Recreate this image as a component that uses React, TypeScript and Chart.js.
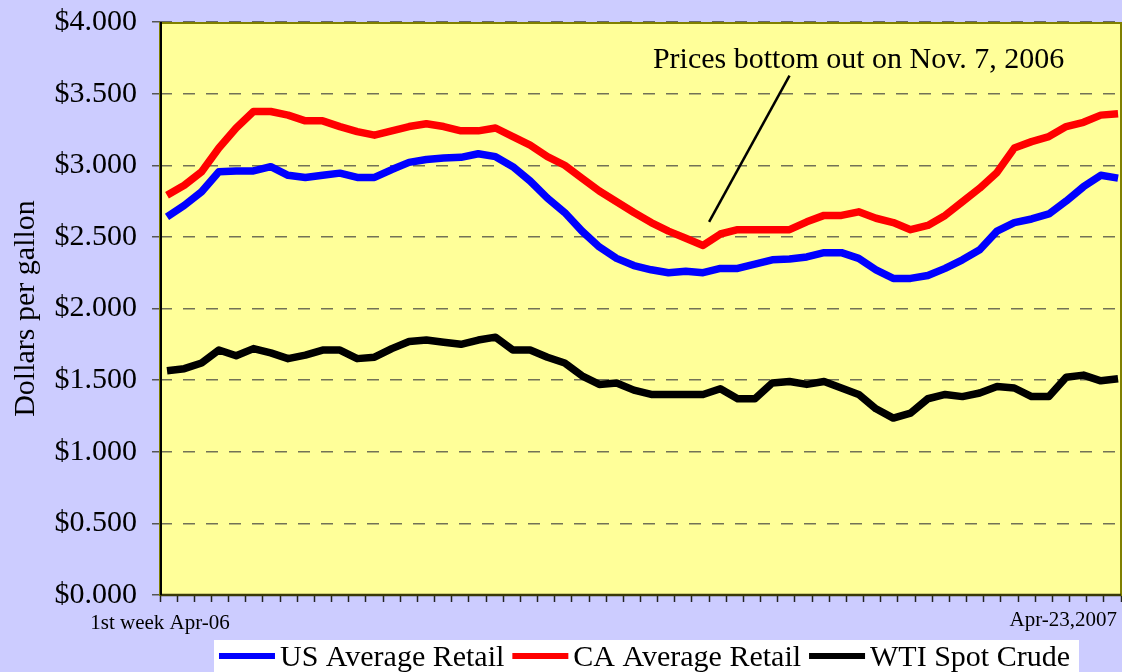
import { useEffect, useRef } from 'react';
import { Chart, registerables } from 'chart.js';

Chart.register(...registerables);

// Weekly observations, 1st week of April 2006 through April 23, 2007
const weeks = [
  '2006-04-03', '2006-04-10', '2006-04-17', '2006-04-24', '2006-05-01', '2006-05-08', '2006-05-15', '2006-05-22',
  '2006-05-29', '2006-06-05', '2006-06-12', '2006-06-19', '2006-06-26', '2006-07-03', '2006-07-10', '2006-07-17',
  '2006-07-24', '2006-07-31', '2006-08-07', '2006-08-14', '2006-08-21', '2006-08-28', '2006-09-04', '2006-09-11',
  '2006-09-18', '2006-09-25', '2006-10-02', '2006-10-09', '2006-10-16', '2006-10-23', '2006-10-30', '2006-11-06',
  '2006-11-13', '2006-11-20', '2006-11-27', '2006-12-04', '2006-12-11', '2006-12-18', '2006-12-25', '2007-01-01',
  '2007-01-08', '2007-01-15', '2007-01-22', '2007-01-29', '2007-02-05', '2007-02-12', '2007-02-19', '2007-02-26',
  '2007-03-05', '2007-03-12', '2007-03-19', '2007-03-26', '2007-04-02', '2007-04-09', '2007-04-16', '2007-04-23',
];

const usRetail = [
  2.64, 2.72, 2.815, 2.955, 2.96, 2.96, 2.99, 2.93, 2.915, 2.93,
  2.945, 2.915, 2.915, 2.97, 3.02, 3.04, 3.05, 3.055, 3.08, 3.06,
  2.99, 2.89, 2.77, 2.67, 2.54, 2.43, 2.35, 2.30, 2.27, 2.25,
  2.26, 2.25, 2.28, 2.28, 2.31, 2.34, 2.345, 2.36, 2.39, 2.39,
  2.35, 2.27, 2.21, 2.21, 2.23, 2.28, 2.34, 2.41, 2.54, 2.60,
  2.625, 2.66, 2.75, 2.85, 2.93, 2.91,
];

const caRetail = [
  2.79, 2.86, 2.955, 3.12, 3.26, 3.375, 3.375, 3.35, 3.31, 3.31,
  3.27, 3.235, 3.21, 3.24, 3.27, 3.29, 3.27, 3.24, 3.24, 3.26,
  3.20, 3.14, 3.06, 3.00, 2.91, 2.82, 2.745, 2.67, 2.60, 2.54,
  2.49, 2.44, 2.52, 2.55, 2.55, 2.55, 2.55, 2.605, 2.65, 2.65,
  2.675, 2.63, 2.60, 2.55, 2.58, 2.65, 2.745, 2.84, 2.95, 3.12,
  3.165, 3.20, 3.27, 3.30, 3.35, 3.36,
];

const wtiCrude = [
  1.565, 1.58, 1.62, 1.71, 1.67, 1.72, 1.69, 1.65, 1.675, 1.71,
  1.71, 1.65, 1.66, 1.72, 1.77, 1.78, 1.765, 1.75, 1.78, 1.80,
  1.71, 1.71, 1.66, 1.62, 1.53, 1.47, 1.48, 1.43, 1.40, 1.40,
  1.40, 1.40, 1.44, 1.37, 1.37, 1.48, 1.49, 1.47, 1.49, 1.445,
  1.40, 1.30, 1.235, 1.27, 1.37, 1.40, 1.385, 1.41, 1.455, 1.445,
  1.385, 1.385, 1.52, 1.535, 1.495, 1.51,
];

const seriesNames = ['US Average Retail', 'CA Average Retail', 'WTI Spot Crude'];
const seriesColors = ['#0000ff', '#ff0000', '#000000'];
const seriesValues = [usRetail, caRetail, wtiCrude];

const xEndLabels = ['1st week Apr-06', 'Apr-23,2007'];
const yAxisTitle = 'Dollars per gallon';
const annotationText = 'Prices bottom out on Nov. 7, 2006';

const FONT = '"Liberation Serif", "Times New Roman", serif';

export default function App() {
  const ref = useRef<HTMLCanvasElement>(null);

  useEffect(() => {
    document.body.style.margin = '0';
    const canvas = ref.current;
    if (!canvas) return;

    const bgPlugin = {
      id: 'bg',
      beforeDraw(chart: any) {
        const { ctx, chartArea: a } = chart;
        ctx.save();
        ctx.fillStyle = '#ccccff';
        ctx.fillRect(0, 0, chart.width, chart.height);
        ctx.fillStyle = '#ffff99';
        ctx.fillRect(a.left, a.top, a.right - a.left, a.bottom - a.top);
        ctx.restore();
      },
    };

    const framePlugin = {
      id: 'frame',
      beforeDatasetsDraw(chart: any) {
        const { ctx, chartArea: a } = chart;
        ctx.save();
        ctx.setLineDash([]);
        ctx.strokeStyle = '#808000';
        ctx.lineWidth = 2;
        ctx.strokeRect(a.left, a.top + 1, a.right - a.left, a.bottom - a.top - 1);
        ctx.strokeStyle = '#3a3a08';
        ctx.lineWidth = 2.5;
        ctx.beginPath();
        ctx.moveTo(a.left, a.bottom);
        ctx.lineTo(a.right, a.bottom);
        ctx.stroke();
        ctx.strokeStyle = '#000000';
        ctx.lineWidth = 2;
        ctx.beginPath();
        ctx.moveTo(a.left + 1, a.top);
        ctx.lineTo(a.left + 1, a.bottom);
        ctx.stroke();
        ctx.restore();
      },
    };

    const textPlugin = {
      id: 'texts',
      afterDraw(chart: any) {
        const { ctx, chartArea: a } = chart;
        const xs = chart.scales.x;
        const ys = chart.scales.y;
        ctx.save();
        ctx.fillStyle = '#000';

        // x-axis end labels
        ctx.font = `21px ${FONT}`;
        ctx.textBaseline = 'alphabetic';
        ctx.textAlign = 'center';
        ctx.fillText(xEndLabels[0], a.left, a.bottom + 34);
        ctx.textAlign = 'right';
        ctx.fillText(xEndLabels[1], a.right - 4, a.bottom + 31);

        // annotation
        ctx.font = `30px ${FONT}`;
        ctx.textAlign = 'left';
        ctx.fillText(annotationText, xs.getPixelForValue(28.1), ys.getPixelForValue(3.68));
        ctx.strokeStyle = '#000';
        ctx.lineWidth = 2.5;
        ctx.beginPath();
        ctx.moveTo(xs.getPixelForValue(36.0), ys.getPixelForValue(3.625));
        ctx.lineTo(xs.getPixelForValue(31.35), ys.getPixelForValue(2.605));
        ctx.stroke();

        // legend
        ctx.font = `30px ${FONT}`;
        const widths = seriesNames.map((n) => ctx.measureText(n).width);
        const sample = 56, textGap = 5, itemGap = 8, padL = 5, padR = 9;
        let total = padL + padR + itemGap * (seriesNames.length - 1);
        widths.forEach((w) => { total += sample + textGap + w; });
        const boxTop = chart.height - 32;
        const boxLeft = (a.left + a.right) / 2 + 6 - total / 2;
        ctx.fillStyle = '#ffffff';
        ctx.fillRect(boxLeft, boxTop, total, 32);
        let x = boxLeft + padL;
        seriesNames.forEach((n, k) => {
          ctx.strokeStyle = seriesColors[k];
          ctx.lineWidth = 6;
          ctx.beginPath();
          ctx.moveTo(x, boxTop + 16);
          ctx.lineTo(x + sample, boxTop + 16);
          ctx.stroke();
          x += sample + textGap;
          ctx.fillStyle = '#000';
          ctx.textAlign = 'left';
          ctx.fillText(n, x, boxTop + 26);
          x += widths[k] + itemGap;
        });
        ctx.restore();
      },
    };

    const chart = new Chart(canvas, {
      type: 'line',
      data: {
        labels: weeks,
        datasets: seriesValues.map((vals, k) => ({
          label: seriesNames[k],
          data: vals.map((v, i) => ({ x: i, y: v })),
          borderColor: seriesColors[k],
          backgroundColor: seriesColors[k],
          borderWidth: 7.5,
          pointRadius: 0,
          pointHoverRadius: 0,
          tension: 0,
          borderJoinStyle: 'round' as const,
          borderCapStyle: 'butt' as const,
          fill: false,
          xAxisID: 'x',
          yAxisID: 'y',
        })),
      },
      options: {
        responsive: false,
        animation: false,
        devicePixelRatio: 1,
        events: [],
        layout: { padding: { top: 22, right: 1, left: 0, bottom: 0 } },
        plugins: {
          legend: { display: false },
          tooltip: { enabled: false },
          title: { display: false },
        },
        scales: {
          x: { type: 'linear', display: false, min: -0.405, max: 55.17 },
          xt: {
            type: 'category',
            axis: 'x',
            position: 'bottom',
            labels: weeks,
            offset: true,
            grid: {
              offset: true,
              drawOnChartArea: false,
              drawTicks: true,
              tickLength: 7,
              tickColor: '#222222',
              tickWidth: 1.5,
            },
            border: { display: false },
            ticks: { autoSkip: false, maxRotation: 0, minRotation: 0, callback: () => '' },
            afterFit: (s: any) => { s.height = 77; s.paddingLeft = 0; s.paddingRight = 0; },
          },
          y: {
            type: 'linear',
            position: 'left',
            min: 0,
            max: 4,
            ticks: {
              stepSize: 0.5,
              padding: 15,
              color: '#000',
              font: { family: FONT, size: 30 },
              callback: (v: any) => '$' + Number(v).toFixed(3),
            },
            grid: {
              color: 'rgba(60,60,60,0.72)',
              lineWidth: 1.5,
              drawTicks: true,
              tickLength: 8,
              tickColor: '#555555',
              tickWidth: 1.5,
              tickBorderDash: [],
            },
            border: { display: false, dash: [12, 11] },
            title: {
              display: true,
              text: yAxisTitle,
              color: '#000',
              font: { family: FONT, size: 30 },
              padding: { top: 8, bottom: 0 },
            },
            afterFit: (s: any) => { s.width = 160; s.paddingTop = 0; s.paddingBottom = 0; },
          },
        },
      } as any,
      plugins: [bgPlugin, framePlugin, textPlugin],
    });

    return () => chart.destroy();
  }, []);

  return <canvas ref={ref} width={1122} height={672} style={{ display: 'block' }} />;
}
